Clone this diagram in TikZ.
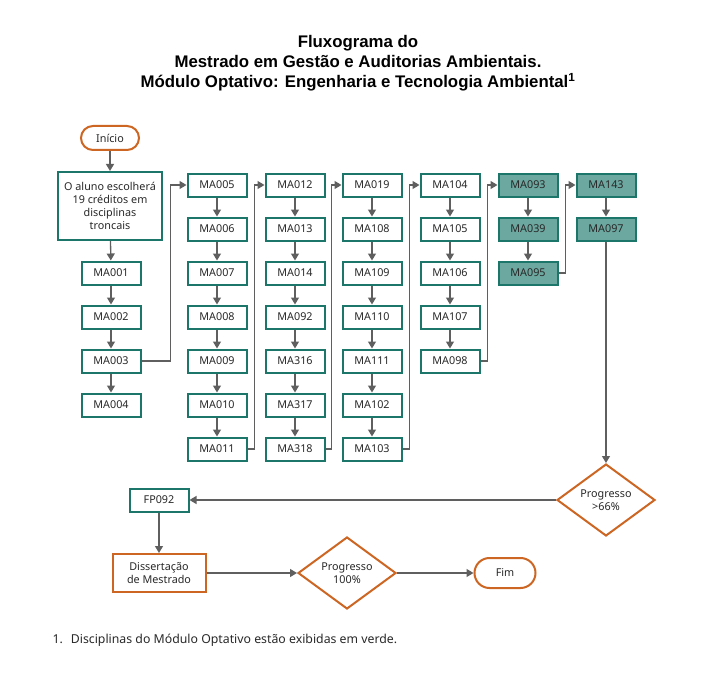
\documentclass[tikz,border=0pt]{standalone}
\usepackage{fontspec}
\setmainfont{Noto Sans}
\newfontfamily\titlefont{Liberation Sans}
\usetikzlibrary{shapes.geometric,arrows.meta}
\definecolor{tealb}{RGB}{28,118,106}
\definecolor{greenf}{RGB}{108,168,160}
\definecolor{orangeb}{RGB}{204,102,34}
\definecolor{linec}{RGB}{95,95,95}
\definecolor{textc}{RGB}{40,40,40}
\tikzset{
  x=1pt, y=-1pt,
  lbl/.style={font=\fontsize{10.8}{13}\selectfont, text=textc},
  course/.style={lbl, draw=tealb, line width=2pt, fill=white, minimum width=59pt, minimum height=23pt, inner sep=0pt},
  optcourse/.style={course, fill=greenf},
  term/.style={lbl, draw=orangeb, line width=2pt, fill=white, rounded corners=#1, inner sep=0pt},
  dec/.style={lbl, diamond, draw=orangeb, line width=2pt, fill=white, inner sep=0pt, align=center},
  conn/.style={draw=linec, line width=1.3pt, -{Triangle[length=7pt,width=8pt]}},
}
\begin{document}
\begin{tikzpicture}
\useasboundingbox (0,0) rectangle (716,677);
% title
\node[font=\titlefont\bfseries\fontsize{16.8}{20}\selectfont, align=center, text=black] (title) at (358,63)
  {Fluxograma do\\Mestrado em Gestão e Auditorias Ambientais.\\Módulo Optativo: Engenharia e Tecnologia Ambiental\textsuperscript{1}};
% column 1
\node[term=12pt, minimum width=58pt, minimum height=24pt] (ini) at (110,138) {Início};
\node[course, minimum width=104pt, minimum height=68pt, align=center] (big) at (110,206)
  {O aluno escolherá\\19 créditos em\\disciplinas\\troncais};
\node[course] (ma001) at (111,273) {MA001};
\node[course] (ma002) at (111,317) {MA002};
\node[course] (ma003) at (111,361) {MA003};
\node[course] (ma004) at (111,405) {MA004};
% column 2
\node[course] (ma005) at (217,185) {MA005};
\node[course] (ma006) at (217,229) {MA006};
\node[course] (ma007) at (217,273) {MA007};
\node[course] (ma008) at (217,317) {MA008};
\node[course] (ma009) at (217,361) {MA009};
\node[course] (ma010) at (217,405) {MA010};
\node[course] (ma011) at (217,449) {MA011};
% column 3
\node[course] (ma012) at (295,185) {MA012};
\node[course] (ma013) at (295,229) {MA013};
\node[course] (ma014) at (295,273) {MA014};
\node[course] (ma092) at (295,317) {MA092};
\node[course] (ma316) at (295,361) {MA316};
\node[course] (ma317) at (295,405) {MA317};
\node[course] (ma318) at (295,449) {MA318};
% column 4
\node[course] (ma019) at (372,185) {MA019};
\node[course] (ma108) at (372,229) {MA108};
\node[course] (ma109) at (372,273) {MA109};
\node[course] (ma110) at (372,317) {MA110};
\node[course] (ma111) at (372,361) {MA111};
\node[course] (ma102) at (372,405) {MA102};
\node[course] (ma103) at (372,449) {MA103};
% column 5
\node[course] (ma104) at (450,185) {MA104};
\node[course] (ma105) at (450,229) {MA105};
\node[course] (ma106) at (450,273) {MA106};
\node[course] (ma107) at (450,317) {MA107};
\node[course] (ma098) at (450,361) {MA098};
% column 6 (optional)
\node[optcourse] (ma093) at (528,185) {MA093};
\node[optcourse] (ma039) at (528,229) {MA039};
\node[optcourse] (ma095) at (528,273) {MA095};
% column 7 (optional)
\node[optcourse] (ma143) at (606,185) {MA143};
\node[optcourse] (ma097) at (606,229) {MA097};
% bottom
\node[dec, minimum width=98pt, minimum height=64pt] (p66) at (606,500) {Progresso\\>66\%};
\node[course] (fp092) at (159,500) {FP092};
\node[course, draw=orangeb, minimum width=93pt, minimum height=38pt, align=center] (diss) at (159,573) {Dissertação\\de Mestrado};
\node[dec, minimum width=98pt, minimum height=52pt] (p100) at (347,573) {Progresso\\100\%};
\node[term=15pt, minimum width=61pt, minimum height=30pt] (fim) at (505,573) {Fim};
% footnote
\node[anchor=west, font=\fontsize{12.3}{14}\selectfont, text=textc] (fn) at (49,640) {1.\hspace{8pt}Disciplinas do Módulo Optativo estão exibidas em verde.};
% connectors column 1
\draw[conn] (ini) -- (big);
\draw[conn] (big) -- (ma001);
\draw[conn] (ma001) -- (ma002);
\draw[conn] (ma002) -- (ma003);
\draw[conn] (ma003) -- (ma004);
% column 2
\draw[conn] (ma005) -- (ma006);
\draw[conn] (ma006) -- (ma007);
\draw[conn] (ma007) -- (ma008);
\draw[conn] (ma008) -- (ma009);
\draw[conn] (ma009) -- (ma010);
\draw[conn] (ma010) -- (ma011);
% column 3
\draw[conn] (ma012) -- (ma013);
\draw[conn] (ma013) -- (ma014);
\draw[conn] (ma014) -- (ma092);
\draw[conn] (ma092) -- (ma316);
\draw[conn] (ma316) -- (ma317);
\draw[conn] (ma317) -- (ma318);
% column 4
\draw[conn] (ma019) -- (ma108);
\draw[conn] (ma108) -- (ma109);
\draw[conn] (ma109) -- (ma110);
\draw[conn] (ma110) -- (ma111);
\draw[conn] (ma111) -- (ma102);
\draw[conn] (ma102) -- (ma103);
% column 5
\draw[conn] (ma104) -- (ma105);
\draw[conn] (ma105) -- (ma106);
\draw[conn] (ma106) -- (ma107);
\draw[conn] (ma107) -- (ma098);
% column 6,7
\draw[conn] (ma093) -- (ma039);
\draw[conn] (ma039) -- (ma095);
\draw[conn] (ma143) -- (ma097);
% column links
\draw[conn] (ma003.east) -- ++(29,0) |- (ma005.west);
\draw[conn] (ma011.east) -- ++(7,0) |- (ma012.west);
\draw[conn] (ma318.east) -- ++(6,0) |- (ma019.west);
\draw[conn] (ma103.east) -- ++(7,0) |- (ma104.west);
\draw[conn] (ma098.east) -- ++(7,0) |- (ma093.west);
\draw[conn] (ma095.east) -- ++(7,0) |- (ma143.west);
% bottom flow
\draw[conn] (ma097) -- (p66);
\draw[conn] (p66) -- (fp092);
\draw[conn] (fp092) -- (diss);
\draw[conn] (diss) -- (p100);
\draw[conn] (p100) -- (fim);
\end{tikzpicture}
\end{document}
